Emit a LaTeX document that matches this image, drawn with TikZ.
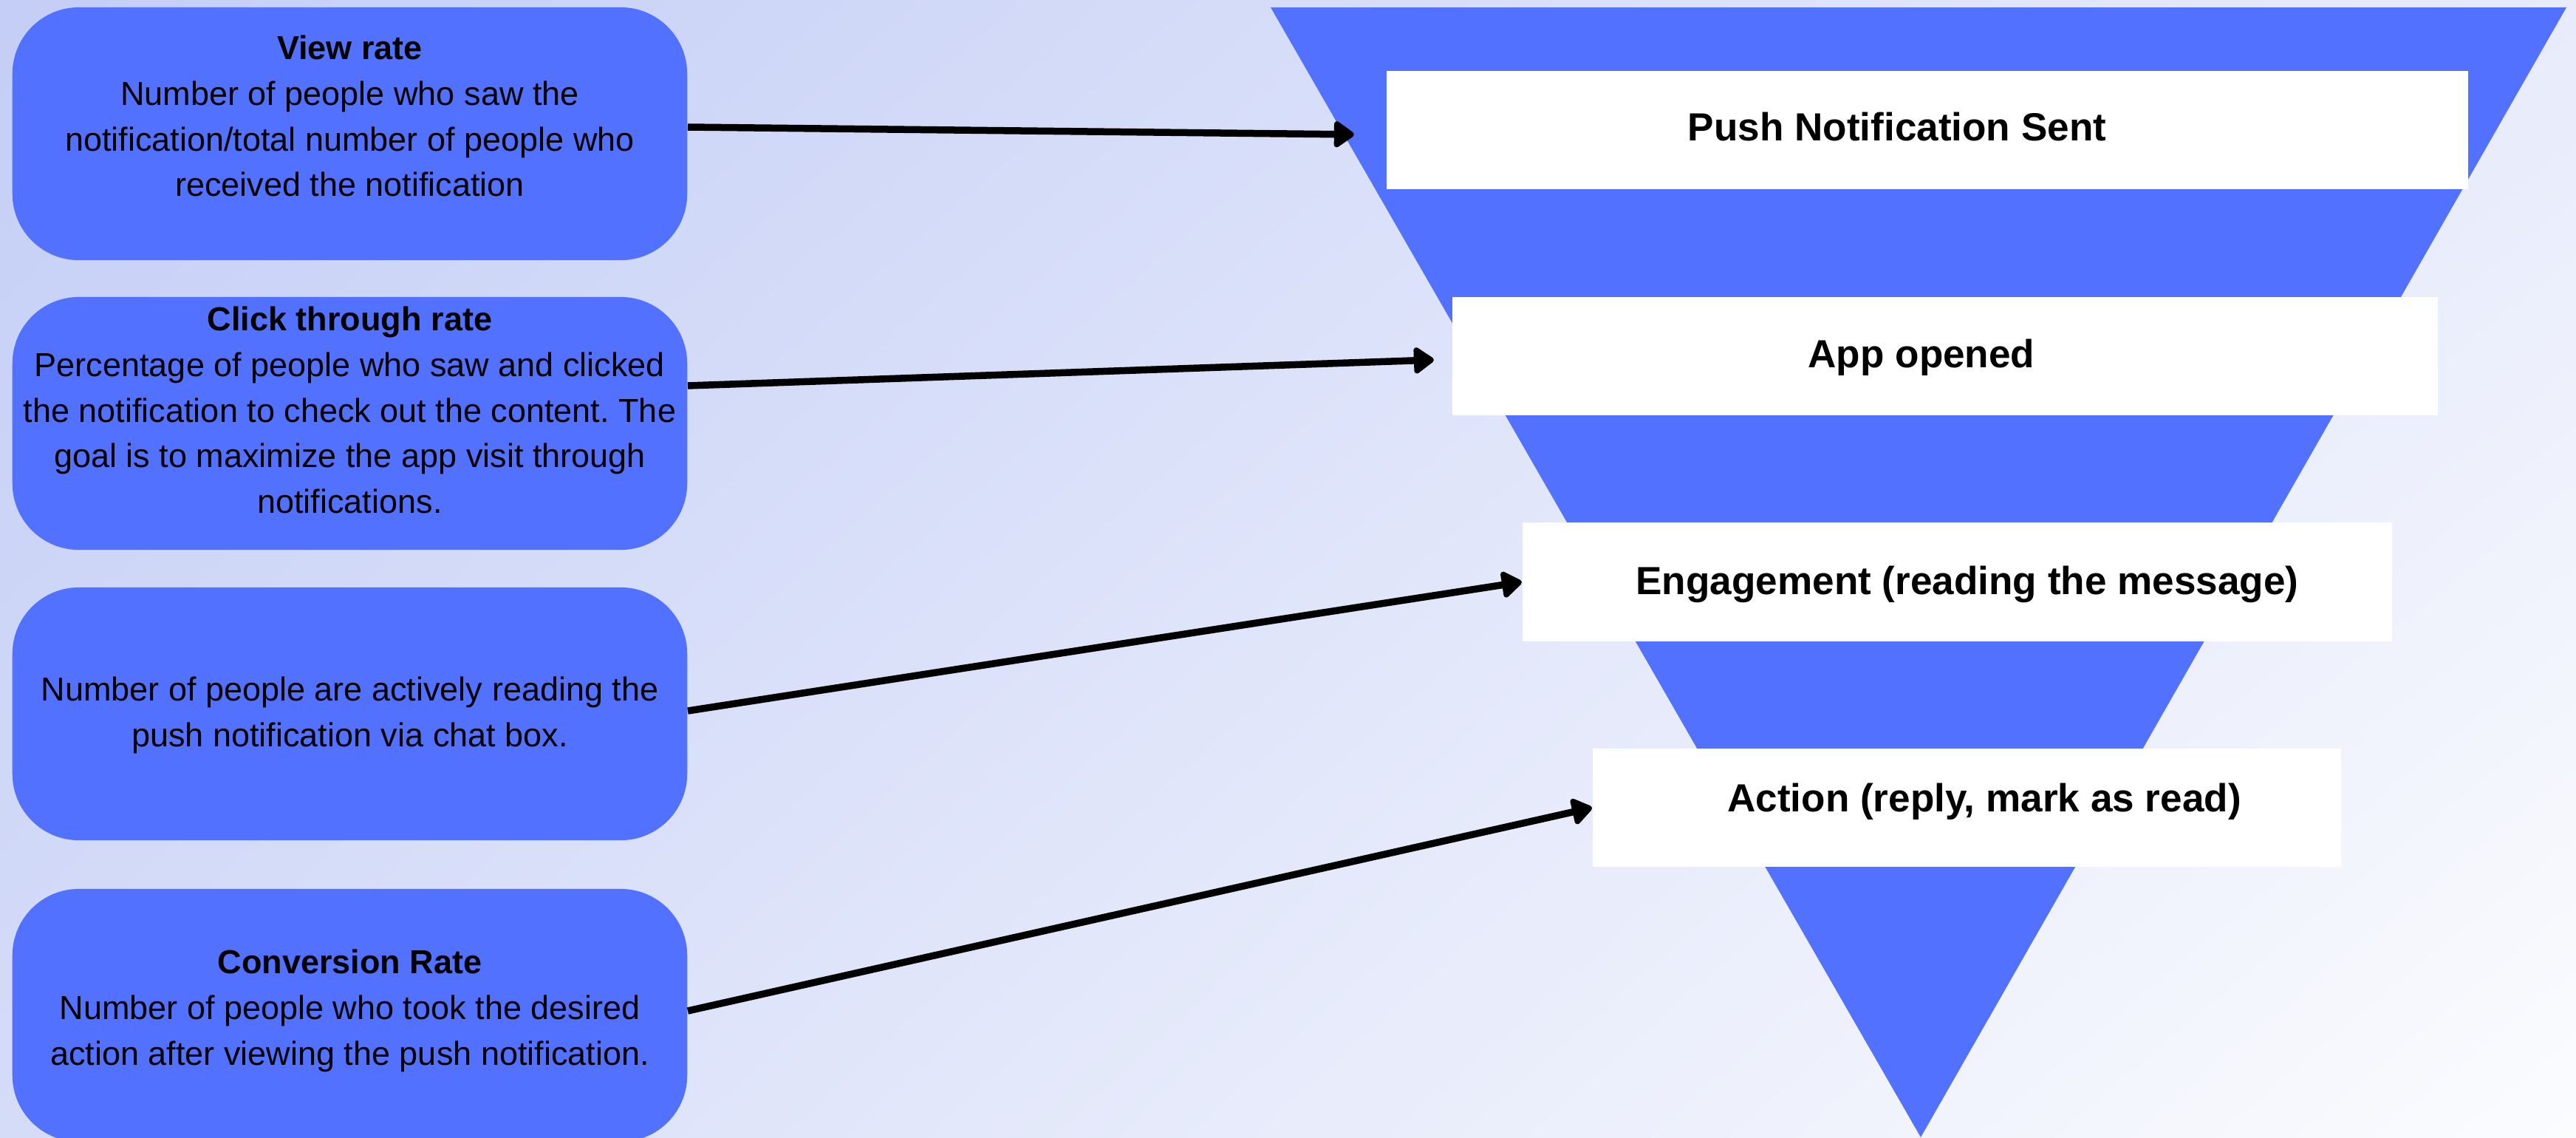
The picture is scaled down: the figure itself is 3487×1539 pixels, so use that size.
\documentclass[tikz,border=0pt]{standalone}
\usepackage{fontspec}
\setmainfont{Liberation Sans}
\frenchspacing
\usetikzlibrary{arrows.meta,shadings}
\definecolor{funnelblue}{HTML}{5271FF}
\definecolor{bgUL}{HTML}{C4CEF6}
\definecolor{bgUR}{HTML}{E7EBFB}
\definecolor{bgLL}{HTML}{D5DCF8}
\definecolor{bgLR}{HTML}{FBFCFE}
\tikzset{
  metricbox/.style={fill=funnelblue, draw=none, rounded corners=0.9cm,
    minimum width=9.13cm, minimum height=3.42cm, inner sep=0pt},
  metrictext/.style={align=center, inner sep=0pt,
    font=\fontsize{12.8}{17.6}\selectfont\frenchspacing},
  stagebox/.style={fill=white, draw=none, minimum height=1.6cm, inner sep=0pt},
  stagetext/.style={inner sep=0pt, anchor=base, font=\fontsize{15.1}{18}\selectfont\bfseries},
  link/.style={line width=0.095cm, black,
    -{Triangle[round, length=0.3cm, width=0.4cm]}}
}
\begin{document}
\begin{tikzpicture}[x=0.01cm, y=-0.01cm]
\useasboundingbox (0,0) rectangle (3487,1539);
\shade[upper left=bgUL, upper right=bgUR, lower left=bgLL, lower right=bgLR]
  (0,0) rectangle (3487,1539);

% funnel
\fill[funnelblue] (1720,10) -- (3474,10) -- (2600,1539) -- cycle;

% stage boxes
\node[stagebox, minimum width=14.64cm] (r1) at (2609,176) {};
\node[stagebox, minimum width=13.34cm] (r2) at (2633,482) {};
\node[stagebox, minimum width=11.77cm] (r3) at (2649.5,787.5) {};
\node[stagebox, minimum width=10.13cm] (r4) at (2662.5,1093) {};

\node[stagetext] (s1) at (2568,190) {Push Notification Sent};
\node[stagetext] (s2) at (2601,497) {App opened};
\node[stagetext] (s3) at (2663,804) {Engagement (reading the message)};
\node[stagetext] (s4) at (2686,1098) {Action (reply, mark as read)};

% metric boxes
\node[metricbox] (b1) at (473.5,181) {};
\node[metricbox] (b2) at (473.5,573) {};
\node[metricbox] (b3) at (473.5,966) {};
\node[metricbox] (b4) at (473.5,1374) {};

\node[metrictext] (m1) at (473.5,157) {\textbf{View rate}\\Number of people who saw the\\notification/total number of people who\\received the notification};
\node[metrictext] (m2) at (473.5,555) {\textbf{Click through rate}\\Percentage of people who saw and clicked\\the notification to check out the content. The\\goal is to maximize the app visit through\\notifications.};
\node[metrictext] (m3) at (473.5,968) {Number of people are actively reading the\\push notification via chat box.};
\node[metrictext] (m4) at (473.5,1368) {\textbf{Conversion Rate}\\Number of people who took the desired\\action after viewing the push notification.};

% connectors
\draw[link] ([yshift=0.09cm]b1.east) -- ([xshift=-0.43cm,yshift=-0.06cm]r1.west);
\draw[link] ([yshift=0.51cm]b2.east) -- ([xshift=-0.24cm,yshift=-0.05cm]r2.west);
\draw[link] ([yshift=0.04cm]b3.east) -- (r3.west);
\draw[link] ([yshift=0.06cm]b4.east) -- (r4.west);
\end{tikzpicture}
\end{document}
